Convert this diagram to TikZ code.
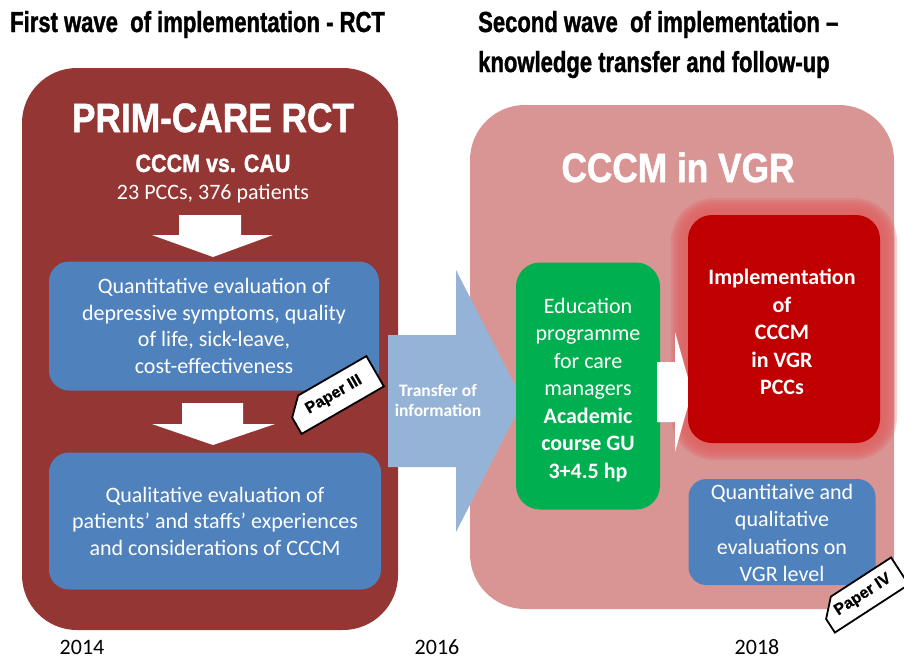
\documentclass[tikz,border=0pt]{standalone}
\usepackage{fontspec}
\usepackage{tikz}
\setmainfont{Carlito}
\newfontfamily\titlefont[FakeStretch=0.76,FakeBold=1.2]{Liberation Sans}
\newfontfamily\headfont[FakeStretch=0.86,FakeBold=1.2]{Liberation Sans}
\newfontfamily\tagfont[FakeBold=0.8]{Liberation Sans}
\usetikzlibrary{shapes.misc}
\definecolor{RCTred}{HTML}{943634}
\definecolor{VGRpink}{HTML}{D99594}
\definecolor{EvalBlue}{HTML}{4F81BD}
\definecolor{TransferBlue}{HTML}{95B3D7}
\definecolor{CourseGreen}{HTML}{00B050}
\definecolor{ImplRed}{HTML}{C00000}
\definecolor{GlowRed}{HTML}{E06666}
\tikzset{
WaveTitle/.style={
 anchor=base west, 
 inner sep=0pt, 
 font=\titlefont\bfseries\fontsize{29}{40}\selectfont
 },
BigBox/.style={
 rounded corners=55pt, 
 inner sep=0pt
 },
BigHead/.style={
 anchor=base, 
 inner sep=0pt, 
 text=white, 
 font=\headfont\bfseries\fontsize{#1}{#1}\selectfont
 },
BigHead/.default={41},
EvalBox/.style={
 fill=EvalBlue, 
 rounded corners=20pt, 
 inner sep=0pt
 },
StepBox/.style={
 rounded corners=24pt, 
 inner sep=0pt
 },
BoxText/.style={
 align=center, 
 inner sep=0pt, 
 text=white, 
 font=\fontsize{22}{#1}\selectfont
 },
BoxText/.default={26.5},
BoldBoxText/.style={
 BoxText, 
 font=\fontsize{22}{27.5}\selectfont\bfseries
 },
WhiteArrow/.style={
 fill=white
 },
PaperTag/.style={
 chamfered rectangle, 
 chamfered rectangle corners=north west, 
 chamfered rectangle xsep=9pt, 
 chamfered rectangle ysep=9pt, 
 draw=black, 
 line width=1.8pt, 
 fill=white, 
 inner sep=0pt, 
 font=\tagfont\bfseries\fontsize{16}{16}\selectfont
 },
Year/.style={
 anchor=base, 
 inner sep=0pt, 
 font=\fontsize{22}{22}\selectfont
 }
}

\begin{document}
\begin{tikzpicture}[x=1pt,y=-1pt]
\useasboundingbox (0,0) rectangle (904,659);
% titles of the two waves
\node[WaveTitle] (titleA) at (10,32) {First wave\ \ of implementation - RCT};
\node[WaveTitle] (titleB) at (478,32) {Second wave\ \ of implementation –};
\node[WaveTitle] (titleC) at (478,72) {knowledge transfer and follow-up};

% first wave: the RCT
\node[BigBox, fill=RCTred, minimum width=376pt, minimum height=562pt] (rct) at (210,349) {};
\node[BigHead] (rctname) at (213,132) {PRIM-CARE RCT};
\node[BigHead=25] (rctarms) at (213,172) {CCCM vs. CAU};
\node[anchor=base, inner sep=0pt, text=white, font=\fontsize{22}{22}\selectfont] (rctsize) at (213,199) {23 PCCs, 376 patients};
\fill[WhiteArrow] (179,215) -- (241,215) -- (241,235) -- (273,235) -- (213,257) -- (152,235) -- (179,235) -- cycle;
\node[EvalBox, minimum width=330pt, minimum height=129pt] (quant) at (214,326) {};
\node[BoxText] (quanttext) at (214,326)
 {Quantitative evaluation of\\depressive symptoms, quality\\of life, sick-leave,\\cost-effectiveness};
\fill[WhiteArrow] (182,403) -- (243,403) -- (243,424) -- (275,424) -- (213,445) -- (152,424) -- (182,424) -- cycle;
\node[EvalBox, minimum width=332pt, minimum height=137pt] (qual) at (215,521) {};
\node[BoxText] (qualtext) at (215,521)
 {Qualitative evaluation of\\patients' and staffs' experiences\\and considerations of CCCM};
\node[PaperTag, rotate=30, minimum width=95pt, minimum height=35pt] (paperA) at (334,395) {Paper III};

% second wave: CCCM in VGR
\node[BigBox, fill=VGRpink, minimum width=424pt, minimum height=504pt] (vgr) at (682,357) {};
\node[BigHead] (vgrname) at (678,182) {CCCM in VGR};

% transfer between the waves
\fill[TransferBlue] (388,335) -- (456,335) -- (456,270) -- (523,401) -- (456,532) -- (456,467) -- (388,467) -- cycle;
\node[align=center, inner sep=0pt, text=white, font=\bfseries\fontsize{17.5}{20}\selectfont] (transfer) at (438,400) {Transfer of\\information};

% education, then implementation
\node[StepBox, fill=CourseGreen, minimum width=144pt, minimum height=247pt] (course) at (588,386) {};
\node[BoxText=27.5] (coursetext) at (588,390)
 {Education\\programme\\for care\\managers\\\textbf{Academic}\\\textbf{course GU}\\\textbf{3+4.5 hp}};
\foreach \g in {17,15,...,1}
 \fill[GlowRed, opacity=0.3, rounded corners=26pt+\g] ({688-\g},{215-\g}) rectangle ({880+\g},{443+\g});
\fill[WhiteArrow] (657,362) -- (675,362) -- (675,332) -- (692,392) -- (675,452) -- (675,422) -- (657,422) -- cycle;
\node[StepBox, fill=ImplRed, minimum width=192pt, minimum height=228pt] (impl) at (784,329) {};
\node[BoldBoxText] (impltext) at (782,332)
 {Implementation\\of\\CCCM\\in VGR\\PCCs};
\node[EvalBox, rounded corners=18pt, minimum width=187pt, minimum height=106pt] (follow) at (782,532) {};
\node[BoxText=27.5] (followtext) at (782,533)
 {Quantitaive and\\qualitative\\evaluations on\\VGR level};
\node[PaperTag, rotate=33, minimum width=88pt, minimum height=32pt] (paperB) at (863,595) {Paper IV};

% years along the bottom
\node[Year] (yearA) at (82,654) {2014};
\node[Year] (yearB) at (437,654) {2016};
\node[Year] (yearC) at (757,654) {2018};
\end{tikzpicture}
\end{document}
